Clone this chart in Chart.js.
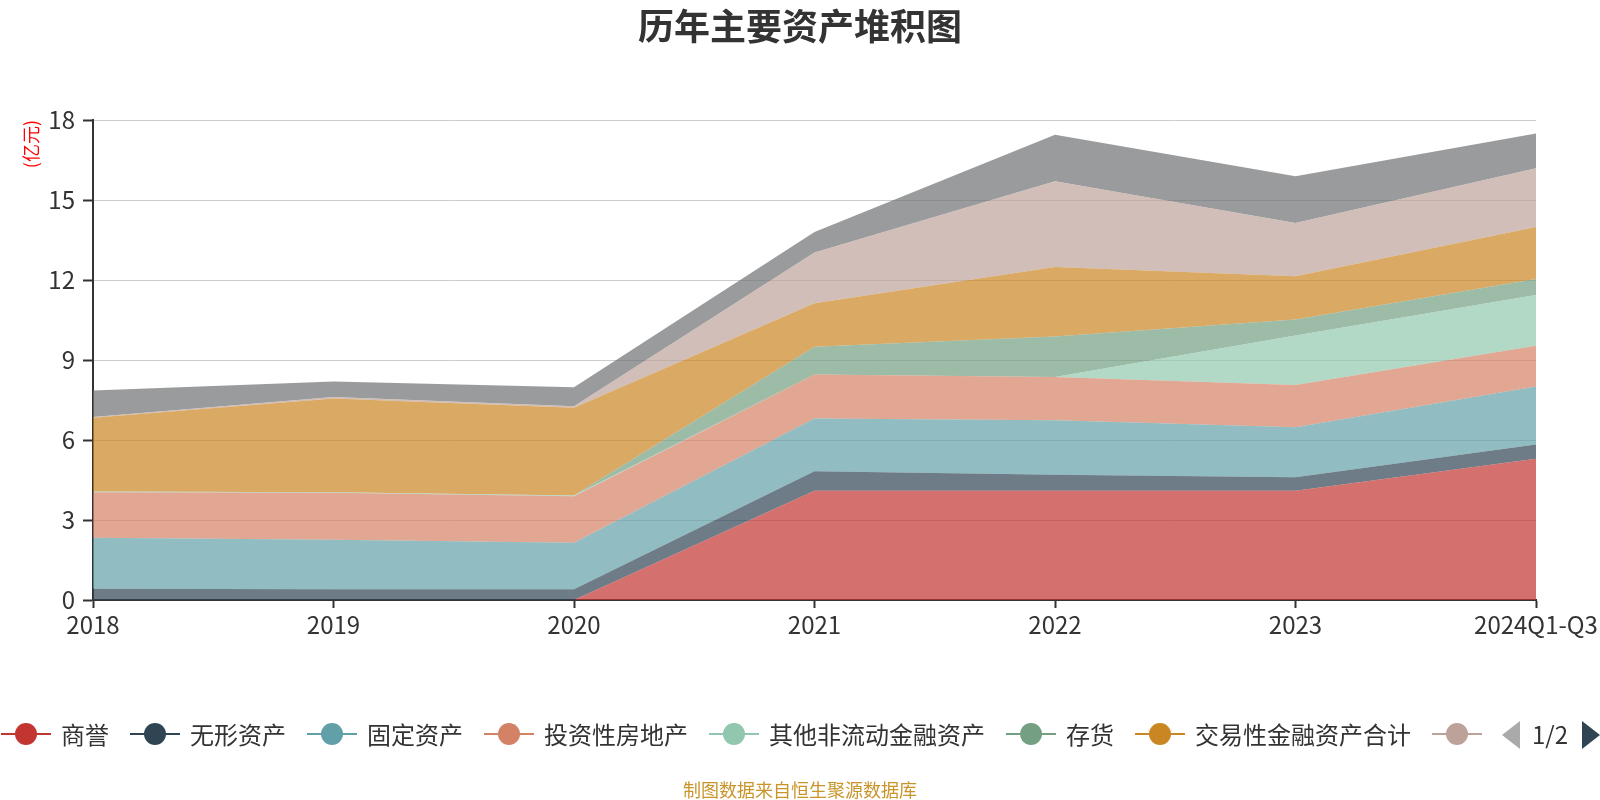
<!DOCTYPE html>
<html lang="zh-CN">
<head>
<meta charset="UTF-8">
<title>历年主要资产堆积图</title>
<script src="https://cdn.jsdelivr.net/npm/chart.js@4.4.1/dist/chart.umd.min.js"></script>
<style>
    html, body { margin: 0; padding: 0; background: #fff; }
    body { width: 1600px; height: 800px; overflow: hidden; font-family: "Noto Sans CJK SC", "Noto Sans", sans-serif; }
    #wrap { position: relative; width: 1600px; height: 800px; }
    #assetChart { position: absolute; left: 0; top: 0; }
    .chart-title { position: absolute; left: 0; top: 0; width: 1600px; text-align: center; font-size: 36px; font-weight: bold; color: #333; line-height: 48px; }
    .legend { position: absolute; left: 1px; top: 716px; height: 36px; display: flex; align-items: center; white-space: nowrap; }
    .legend-item { display: flex; align-items: center; margin-right: 21px; font-size: 24px; color: #333; line-height: 36px; }
    .legend-icon { position: relative; width: 50px; height: 24px; margin-right: 10px; }
    .legend-icon .ln { position: absolute; left: 0; right: 0; top: 11px; height: 2px; }
    .legend-icon .dot { position: absolute; left: 14px; top: 1px; width: 22px; height: 22px; border-radius: 50%; }
    .pager-prev { position: absolute; left: 1502px; top: 721px; width: 0; height: 0; border-top: 14px solid transparent; border-bottom: 14px solid transparent; border-right: 18px solid #aaa; }
    .pager-text { position: absolute; left: 1532px; top: 716px; font-size: 24px; line-height: 36px; color: #333; }
    .pager-next { position: absolute; left: 1582px; top: 721px; width: 0; height: 0; border-top: 14px solid transparent; border-bottom: 14px solid transparent; border-left: 18px solid #2f4554; }
    .source-note { position: absolute; left: 0; top: 777px; width: 1600px; text-align: center; font-size: 18px; line-height: 24px; color: #c9952b; }
</style>
</head>
<body>
<div id="wrap">
    <canvas id="assetChart" width="1600" height="800"></canvas>
    <div class="chart-title">历年主要资产堆积图</div>
    <div class="legend" id="legend"></div>
    <div class="pager-prev"></div>
    <div class="pager-text">1/2</div>
    <div class="pager-next"></div>
    <div class="source-note">制图数据来自恒生聚源数据库</div>
</div>
<script>
    "use strict";

    // 단위: 亿元
    const years = ["2018", "2019", "2020", "2021", "2022", "2023", "2024Q1-Q3"];
    const goodwill = [0, 0, 0, 4.10, 4.10, 4.10, 5.30];
    const intangible = [0.42, 0.40, 0.40, 0.73, 0.60, 0.50, 0.53];
    const fixedAssets = [1.91, 1.86, 1.75, 1.98, 2.04, 1.88, 2.18];
    const investProperty = [1.71, 1.76, 1.74, 1.65, 1.62, 1.58, 1.52];
    const otherNonCurFin = [0.03, 0.02, 0.03, 0, 0, 1.86, 1.91];
    const inventory = [0, 0, 0, 1.04, 1.52, 0.60, 0.60];
    const tradingFin = [2.76, 3.52, 3.29, 1.63, 2.61, 1.62, 1.95];
    const receivables = [0.03, 0.05, 0.06, 1.90, 3.21, 2.00, 2.20];
    const cashFunds = [1.00, 0.58, 0.71, 0.77, 1.75, 1.75, 1.30];

    const yTicks = [0, 3, 6, 9, 12, 15, 18];

    const seriesNames = ["商誉", "无形资产", "固定资产", "投资性房地产", "其他非流动金融资产", "存货", "交易性金融资产合计", "应收账款", "货币资金"];
    const seriesData = [goodwill, intangible, fixedAssets, investProperty, otherNonCurFin, inventory, tradingFin, receivables, cashFunds];
    const palette = ["#c23531", "#2f4554", "#61a0a8", "#d48265", "#91c7ae", "#749f83", "#ca8622", "#bda29a", "#6e7074"];
    const legendCount = 8; // 첫 페이지에 보이는 항목 수

    const FONT = "'Noto Sans CJK SC', 'Noto Sans', sans-serif";

    function withAlpha(hex, a) {
        const n = parseInt(hex.slice(1), 16);
        return `rgba(${(n >> 16) & 255},${(n >> 8) & 255},${n & 255},${a})`;
    }

    /** 범례 (1/2 페이지) */
    const legendEl = document.getElementById("legend");
    seriesNames.slice(0, legendCount).forEach((name, i) => {
        const item = document.createElement("div");
        item.className = "legend-item";
        item.innerHTML =
            `<span class="legend-icon"><span class="ln" style="background:${palette[i]}"></span>` +
            `<span class="dot" style="background:${palette[i]}"></span></span>` +
            (i < legendCount - 1 ? `<span>${name}</span>` : "");
        legendEl.appendChild(item);
    });

    const datasets = seriesData.map((data, i) => ({
        label: seriesNames[i],
        data: data,
        fill: i === 0 ? "origin" : "-1",
        backgroundColor: withAlpha(palette[i], 0.7),
        borderColor: "rgba(0,0,0,0)",
        borderWidth: 0,
        pointRadius: 0,
        tension: 0,
    }));

    new Chart(document.getElementById("assetChart").getContext("2d"), {
        type: "line",
        data: { labels: years, datasets: datasets },
        options: {
            responsive: false,
            animation: false,
            layout: { padding: { left: 0, right: 64, top: 120, bottom: 158 } },
            plugins: {
                legend: { display: false },
                title: { display: false },
                tooltip: { enabled: false }
            },
            scales: {
                x: {
                    offset: false,
                    grid: { drawOnChartArea: false, drawTicks: true, tickLength: 8, tickColor: "#333", tickWidth: 2 },
                    border: { color: "#333", width: 2 },
                    ticks: { color: "#333", font: { size: 24, family: FONT }, padding: 2, autoSkip: false, maxRotation: 0, minRotation: 0 },
                    afterFit(scale) { scale.height = 42; }
                },
                y: {
                    stacked: true,
                    min: 0,
                    max: 18,
                    afterBuildTicks(scale) { scale.ticks = yTicks.map((v) => ({ value: v })); },
                    grid: { color: "#ccc", lineWidth: 1, tickLength: 10, tickColor: "#333", tickWidth: 2 },
                    border: { color: "#333", width: 2 },
                    ticks: { color: "#333", font: { size: 24, family: FONT }, padding: 8 },
                    title: { display: true, text: "(亿元)", color: "#ff0000", font: { size: 18, family: FONT }, align: "end", padding: { top: 20 } },
                    afterFit(scale) { scale.width = 93; }
                }
            }
        }
    });
</script>
</body>
</html>
